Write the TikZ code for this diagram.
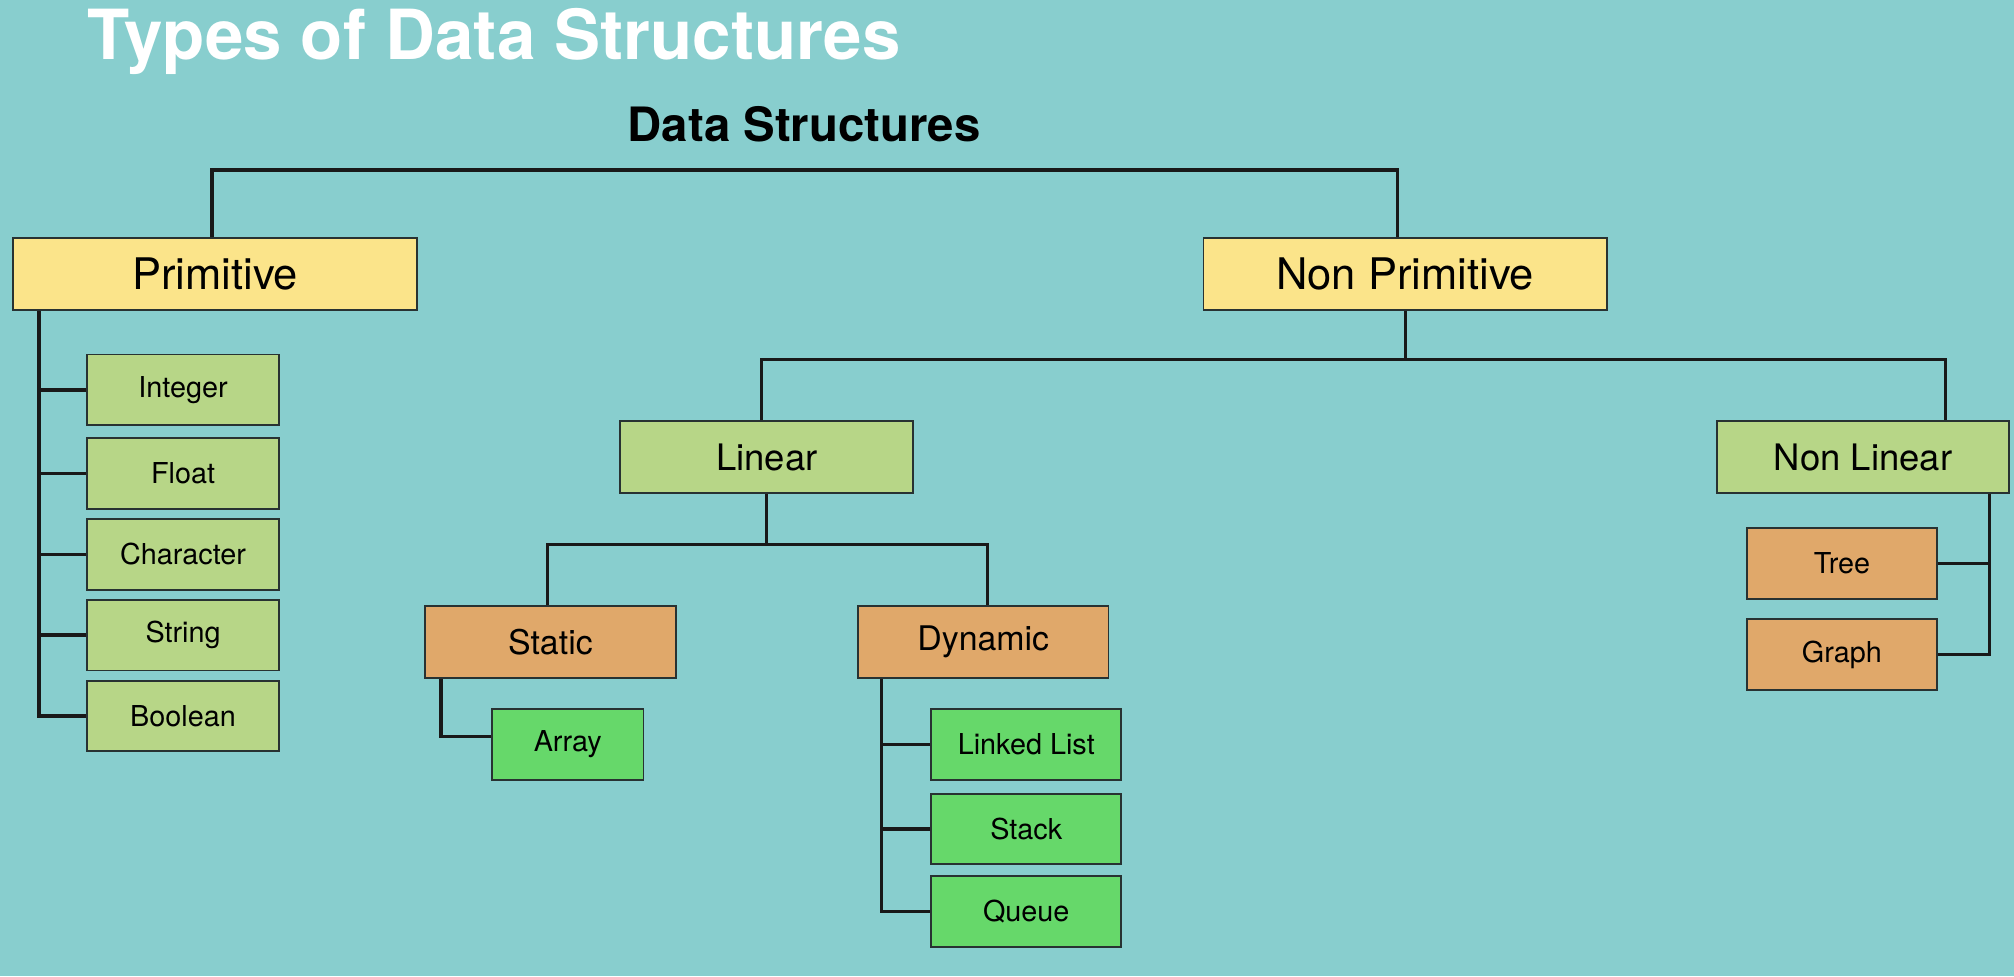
\documentclass[tikz,border=0pt]{standalone}
\usepackage{fontspec}
\setmainfont{TeX Gyre Heros}
\usetikzlibrary{calc}
\definecolor{bgteal}{RGB}{136,206,206}
\definecolor{boxyellow}{RGB}{251,228,138}
\definecolor{boxlgreen}{RGB}{183,214,135}
\definecolor{boxorange}{RGB}{224,168,106}
\definecolor{boxgreen}{RGB}{102,216,106}
\definecolor{edgegray}{RGB}{40,50,50}
\begin{document}
\begin{tikzpicture}[x=1bp,y=-1bp,
  box/.style={draw=edgegray,line width=1.5bp,inner sep=0pt,rectangle,text=black},
  topbox/.style={box,fill=boxyellow,minimum width=315bp,minimum height=56bp,font=\fontsize{34}{40}\selectfont},
  midbox/.style={box,fill=boxlgreen,minimum width=228bp,minimum height=56bp,font=\fontsize{28.5}{34}\selectfont},
  orbox/.style={box,fill=boxorange,minimum width=195bp,minimum height=56bp,font=\fontsize{26.5}{32}\selectfont},
  leafl/.style={box,fill=boxlgreen,minimum width=149bp,minimum height=55bp,font=\fontsize{22.5}{27}\selectfont},
  leafg/.style={box,fill=boxgreen,minimum width=148bp,minimum height=55bp,font=\fontsize{22.5}{27}\selectfont},
  leafo/.style={box,fill=boxorange,minimum width=148bp,minimum height=55bp,font=\fontsize{22.5}{27}\selectfont},
  conn/.style={draw=black!90,line width=2.6bp}]
\fill[bgteal] (0,0) rectangle (1568,760);
\useasboundingbox (0,0) rectangle (1568,760);

\node[anchor=base west,text=white,font=\bfseries\fontsize{54}{60}\selectfont,inner sep=0pt] (title) at (68,46) {Types of Data Structures};
\node[anchor=base,text=black,font=\bfseries\fontsize{37}{44}\selectfont,inner sep=0pt] (ds) at (626,110) {Data Structures};

% level 1
\node[topbox] (prim) at (167.5,213) {Primitive};
\node[topbox,minimum width=314bp] (np) at (1094,213) {Non Primitive};

% primitive leaves
\node[leafl] (int) at (142.5,303.5) {Integer};
\node[leafl] (flt) at (142.5,368.5) {Float};
\node[leafl] (chr) at (142.5,431.5) {Character};
\node[leafl] (str) at (142.5,494.5) {String};
\node[leafl] (bool) at (142.5,557.5) {Boolean};

% level 2
\node[midbox] (lin) at (597,356) {Linear};
\node[midbox,minimum width=227bp] (nlin) at (1450.5,356) {Non Linear};

% level 3
\node[orbox] (st) at (428.5,500) {Static};
\node[orbox] (dy) at (765.5,500) {Dynamic};

\node[leafg,minimum width=118bp] (arr) at (442,579.5) {Array};
\node[leafg] (ll) at (799,579.5) {Linked List};
\node[leafg] (sk) at (799,645.5) {Stack};
\node[leafg] (qu) at (799,709.5) {Queue};

\node[leafo] (tree) at (1434,438.5) {Tree};
\node[leafo] (graph) at (1434,509.5) {Graph};

% connectors
\draw[conn] ([xshift=-2.5bp]prim.north) -- ++(0,-52) -| ([xshift=-6bp]np.north);

\draw[conn] (np.south) -- ++(0,38) coordinate (npbus);
\draw[conn] ([xshift=-4bp]lin.north) |- (npbus) -| ([xshift=-50bp]nlin.north east);

\draw[conn] (lin.south) -- ++(0,39) coordinate (lbus);
\draw[conn] ([xshift=-2.5bp]st.north) |- (lbus) -| ([xshift=3.5bp]dy.north);

\draw[conn] ([xshift=13bp]st.south west) |- ([yshift=6bp]arr.west);

\draw[conn] ([xshift=19bp]dy.south west) coordinate (dv) |- (qu.west);
\draw[conn] (ll.west) -- (ll.west -| dv);
\draw[conn] (sk.west) -- (sk.west -| dv);

\draw[conn] ([xshift=21bp]prim.south west) coordinate (pv) |- (bool.west);
\draw[conn] (int.west) -- (int.west -| pv);
\draw[conn] (flt.west) -- (flt.west -| pv);
\draw[conn] (chr.west) -- (chr.west -| pv);
\draw[conn] (str.west) -- (str.west -| pv);

\draw[conn] ([xshift=-16bp]nlin.south east) coordinate (nv) |- (graph.east);
\draw[conn] (tree.east) -- (tree.east -| nv);
\end{tikzpicture}
\end{document}
